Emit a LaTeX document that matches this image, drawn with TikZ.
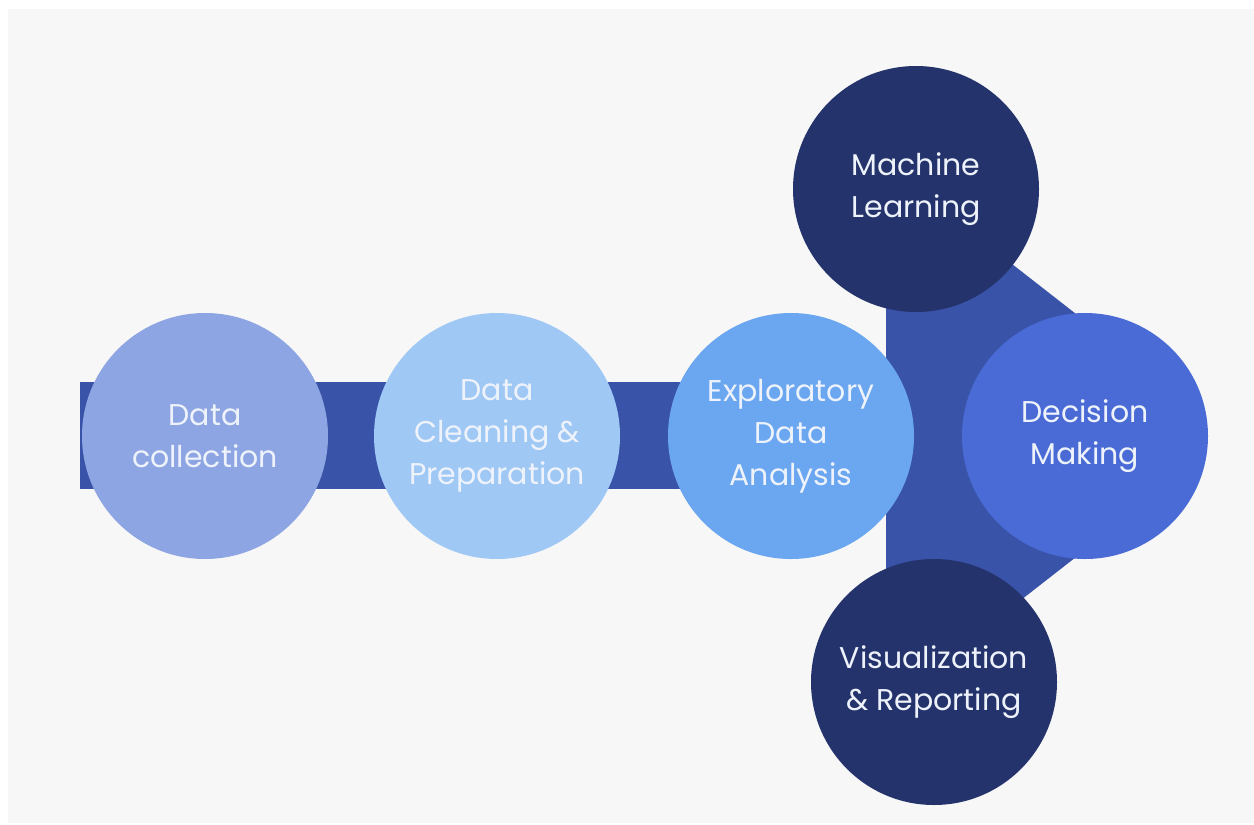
\documentclass[tikz,border=0pt]{standalone}
\usepackage{fontspec}
\setmainfont{Poppins}
\definecolor{bgray}{HTML}{F7F7F7}
\definecolor{barblue}{HTML}{3953A8}
\definecolor{cone}{HTML}{8EA5E3}
\definecolor{ctwo}{HTML}{A0C8F5}
\definecolor{cthree}{HTML}{6BA6F0}
\definecolor{navy}{HTML}{24336B}
\definecolor{cdec}{HTML}{4A6BD6}
\definecolor{txt}{HTML}{EEF3FB}
\begin{document}
\begin{tikzpicture}[x=1pt,y=-1pt,
  stage/.style={circle,minimum size=246pt,inner sep=0pt,align=center,
    text=txt,font=\fontsize{30}{42}\selectfont}]
\useasboundingbox (0,0) rectangle (1254,825);
\fill[white] (0,0) rectangle (1254,825);
\fill[bgray] (8,9) rectangle (1254,823);
% connector bar and fork
\fill[barblue] (80,382) rectangle (890,489);
\fill[barblue] (886,232) -- (971,232) -- (1085,321) -- (1085,550) -- (971,639) -- (886,639) -- cycle;
% stages
\node[stage,fill=cone] (collect) at (205,436) {Data\\collection};
\node[stage,fill=ctwo] (clean) at (497,436) {Data\\Cleaning \&\\Preparation};
\node[stage,fill=cthree] (eda) at (791,436) {Exploratory\\Data\\Analysis};
\node[stage,fill=navy] (ml) at (916,189) {Machine\\Learning};
\node[stage,fill=navy] (vis) at (934,682) {Visualization\\\& Reporting};
\node[stage,fill=cdec] (dec) at (1085,436) {Decision\\Making};
\end{tikzpicture}
\end{document}
